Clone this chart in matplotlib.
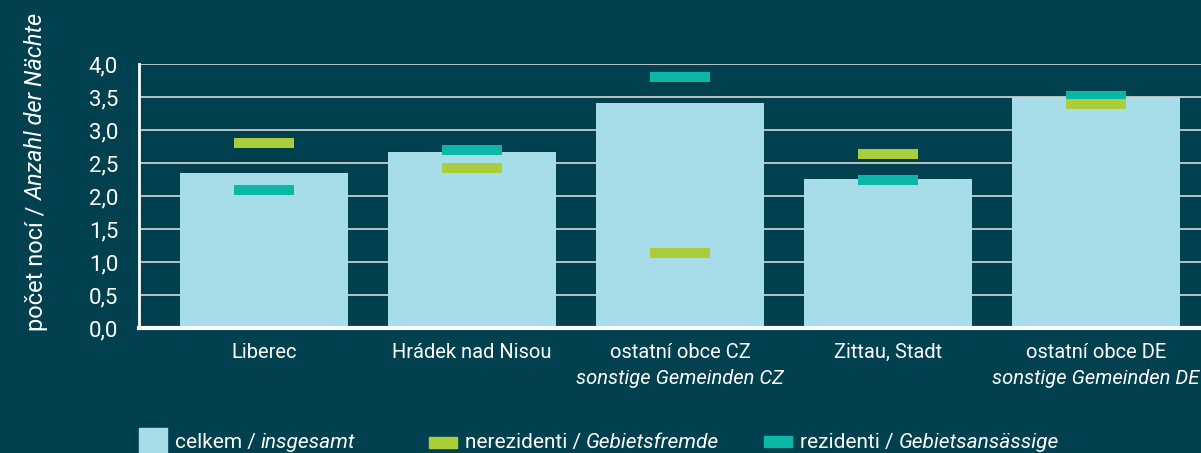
import matplotlib
matplotlib.use("Agg")
import matplotlib.pyplot as plt
from matplotlib.patches import Rectangle
import numpy as np

# ---- data ----
categories_cz = ["Liberec", "Hrádek nad Nisou", "ostatní obce CZ", "Zittau, Stadt", "ostatní obce DE"]
categories_de = ["", "", "sonstige Gemeinden CZ", "", "sonstige Gemeinden DE"]
celkem = [2.35, 2.67, 3.41, 2.26, 3.50]
nerezidenti = [2.80, 2.42, 1.14, 2.64, 3.39]
rezidenti = [2.09, 2.70, 3.80, 2.24, 3.51]
yticks = [0.0, 0.5, 1.0, 1.5, 2.0, 2.5, 3.0, 3.5, 4.0]
ytick_labels = ["0,0", "0,5", "1,0", "1,5", "2,0", "2,5", "3,0", "3,5", "4,0"]
legend_cz = ["celkem", "nerezidenti", "rezidenti"]
legend_de = ["insgesamt", "Gebietsfremde", "Gebietsansässige"]
ylabel_cz = "počet nocí / "
ylabel_de = "Anzahl der Nächte"

BG = "#00404F"
C_BAR = "#A7DDE9"
C_GREEN = "#AACE3A"
C_TEAL = "#0BB8A8"
FG = "white"

plt.rcParams['font.family'] = ['Roboto', 'DejaVu Sans']

W, H = 1201, 453
fig = plt.figure(figsize=(W / 100, H / 100), dpi=100, facecolor=BG)

# axes in pixel coordinates: left 139, right 1221 (clipped), top 64, bottom 328
left, right, top, bottom = 139, 1221, 64, 328
ax = fig.add_axes([left / W, 1 - bottom / H, (right - left) / W, (bottom - top) / H])
ax.set_facecolor(BG)

x = np.arange(len(categories_cz))
ax.bar(x, celkem, width=0.81, color=C_BAR, zorder=2)
mh = 0.15
ax.bar(x, [mh] * len(x), bottom=np.array(rezidenti) - mh / 2, width=0.29, color=C_TEAL, zorder=3)
ax.bar(x, [mh] * len(x), bottom=np.array(nerezidenti) - mh / 2, width=0.29, color=C_GREEN, zorder=4)

ax.set_xlim(-0.6, len(x) - 0.4)
ax.set_ylim(0, 4.0)
ax.set_yticks(yticks)
ax.set_yticklabels(ytick_labels, color=FG, fontsize=16)
ax.tick_params(axis='y', length=0, pad=15)
ax.set_xticks([])
ax.grid(axis='y', color="#C8CCCC", linewidth=1.3, zorder=0)
ax.set_axisbelow(True)
for s in ["top", "right"]:
    ax.spines[s].set_visible(False)
ax.spines["left"].set_color(FG)
ax.spines["left"].set_linewidth(2)
ax.spines["bottom"].set_color(FG)
ax.spines["bottom"].set_linewidth(3)
ax.spines["bottom"].set_zorder(5)

# category labels
for i in range(len(x)):
    ax.annotate(categories_cz[i], xy=(i, 0), xycoords=('data', 'axes fraction'),
                xytext=(0, -24), textcoords='offset pixels', ha='center', va='center',
                color=FG, fontsize=14.5)
    if categories_de[i]:
        ax.annotate(categories_de[i], xy=(i, 0), xycoords=('data', 'axes fraction'),
                    xytext=(0, -50), textcoords='offset pixels', ha='center', va='center',
                    color=FG, fontsize=14.5, style='italic')

# y label, two styles
t1 = fig.text(43 / W, 1 - 331 / H, ylabel_cz, rotation=90, rotation_mode='anchor',
              ha='left', va='baseline', color=FG, fontsize=17)
fig.canvas.draw()
bb = t1.get_window_extent(renderer=fig.canvas.get_renderer())
fig.text(43 / W, bb.y1 / H, ylabel_de, rotation=90, rotation_mode='anchor',
         ha='left', va='baseline', color=FG, fontsize=17, style='italic')

# legend (manual)
leg_patches = [(139, 428, 28, 30, C_BAR), (429, 437, 28, 11, C_GREEN), (764, 436, 28, 11, C_TEAL)]
for (px, py, pw, ph, col), lc, ld in zip(leg_patches, legend_cz, legend_de):
    fig.patches.append(Rectangle((px / W, 1 - (py + ph) / H), pw / W, ph / H,
                                 transform=fig.transFigure, color=col, figure=fig))
    tx = (px + pw + 8) / W
    ty = 1 - 448 / H
    a = fig.text(tx, ty, lc + " / ", ha='left', va='baseline', color=FG, fontsize=15)
    fig.canvas.draw()
    b = a.get_window_extent(renderer=fig.canvas.get_renderer())
    fig.text(b.x1 / W, ty, ld, ha='left', va='baseline', color=FG, fontsize=15, style='italic')

fig.savefig("out.png", dpi=100, facecolor=BG)
